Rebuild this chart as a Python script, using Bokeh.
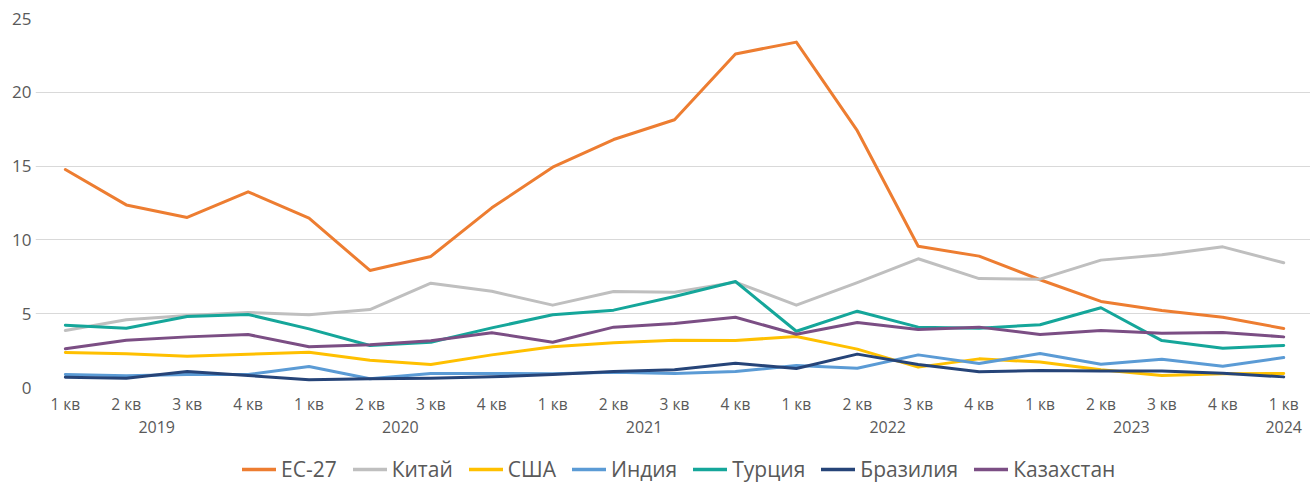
from bokeh.plotting import figure
from bokeh.models import (Range1d, FixedTicker, LinearAxis, Legend, LegendItem)
from bokeh.layouts import column
from bokeh.embed import file_html
from bokeh.resources import INLINE

quarters = ["1 кв", "2 кв", "3 кв", "4 кв"] * 5 + ["1 кв"]
years = ["2019"] * 4 + ["2020"] * 4 + ["2021"] * 4 + ["2022"] * 4 + ["2023"] * 4 + ["2024"]

eu27 = [14.77, 12.37, 11.52, 13.26, 11.47, 7.93, 8.88, 12.17, 14.93, 16.8, 18.14,
        22.6, 23.4, 17.4, 9.57, 8.9, 7.3, 5.83, 5.22, 4.76, 4.0]
china = [3.86, 4.59, 4.88, 5.08, 4.93, 5.28, 7.07, 6.52, 5.58, 6.5, 6.46, 7.14,
         5.58, 7.1, 8.72, 7.38, 7.34, 8.63, 8.99, 9.53, 8.45]
usa = [2.37, 2.28, 2.12, 2.26, 2.39, 1.85, 1.56, 2.21, 2.76, 3.03, 3.2, 3.18,
       3.46, 2.6, 1.38, 1.94, 1.72, 1.2, 0.81, 0.93, 0.95]
india = [0.88, 0.79, 0.88, 0.88, 1.42, 0.59, 0.95, 0.95, 0.93, 1.04, 0.95, 1.08,
         1.49, 1.31, 2.21, 1.63, 2.3, 1.58, 1.92, 1.44, 2.03]
turkey = [4.22, 4.02, 4.81, 4.95, 3.97, 2.85, 3.07, 4.04, 4.93, 5.24, 6.17, 7.18,
          3.81, 5.17, 4.09, 4.02, 4.25, 5.4, 3.18, 2.66, 2.85]
brazil = [0.7, 0.63, 1.08, 0.81, 0.52, 0.59, 0.63, 0.72, 0.88, 1.08, 1.2, 1.65,
          1.29, 2.26, 1.56, 1.06, 1.15, 1.12, 1.12, 0.97, 0.72]
kazakhstan = [2.62, 3.2, 3.43, 3.59, 2.76, 2.89, 3.16, 3.71, 3.07, 4.09, 4.34, 4.76,
              3.61, 4.4, 3.93, 4.09, 3.59, 3.86, 3.68, 3.73, 3.43]

series_names = ["ЕС-27", "Китай", "США", "Индия", "Турция", "Бразилия", "Казахстан"]
series_values = [eu27, china, usa, india, turkey, brazil, kazakhstan]
colors = ["#ED7D31", "#BFBFBF", "#FFC000", "#5B9BD5", "#15A69A", "#264478", "#7B4E84"]

FONT = "Open Sans"
TXT = "#595959"

x = list(range(len(quarters)))

p = figure(width=1310, height=447, output_backend="svg", toolbar_location=None,
           x_range=Range1d(-0.49, 20.44), y_range=Range1d(0, 25),
           min_border_left=35, min_border_right=0, min_border_top=18, min_border_bottom=60)
p.outline_line_color = None
p.background_fill_color = "white"
p.border_fill_color = "white"

p.xgrid.visible = False
p.ygrid.grid_line_color = "#D9D9D9"
p.ygrid.grid_line_width = 1
p.ygrid.ticker = FixedTicker(ticks=[0, 5, 10, 15, 20, 25])

ya = p.yaxis[0]
ya.ticker = FixedTicker(ticks=[0, 5, 10, 15, 20, 25])
ya.axis_line_color = None
ya.major_tick_line_color = None
ya.minor_tick_line_color = None
ya.major_tick_out = 0
ya.major_label_text_font = FONT
ya.major_label_text_font_size = "17px"
ya.major_label_text_color = TXT
ya.major_label_standoff = 4

xa = p.xaxis[0]
xa.ticker = FixedTicker(ticks=x)
xa.major_label_overrides = {i: q for i, q in zip(x, quarters)}
xa.axis_line_color = None
xa.major_tick_line_color = None
xa.minor_tick_line_color = None
xa.major_tick_out = 0
xa.major_label_text_font = FONT
xa.major_label_text_font_size = "15.5px"
xa.major_label_text_color = TXT
xa.major_label_standoff = 5

# year level
year_order = []
for yv in years:
    if yv not in year_order:
        year_order.append(yv)
year_pos = []
for yv in year_order:
    idx = [i for i, v in zip(x, years) if v == yv]
    year_pos.append(sum(idx) / len(idx))
xa2 = LinearAxis(ticker=FixedTicker(ticks=year_pos),
                 major_label_overrides={pos: yv for pos, yv in zip(year_pos, year_order)})
xa2.axis_line_color = None
xa2.major_tick_line_color = None
xa2.minor_tick_line_color = None
xa2.major_tick_out = 0
xa2.major_label_text_font = FONT
xa2.major_label_text_font_size = "16px"
xa2.major_label_text_color = TXT
xa2.major_label_standoff = 3
p.add_layout(xa2, "below")

for name, vals, c in zip(series_names, series_values, colors):
    p.line(x, vals, line_color=c, line_width=3, line_join="round", line_cap="round")

# legend strip (proxy lines kept outside the visible range)
pl = figure(width=1310, height=40, output_backend="svg", toolbar_location=None,
            x_range=Range1d(0, 1), y_range=Range1d(0, 1),
            min_border_left=0, min_border_right=0, min_border_top=0, min_border_bottom=0)
pl.axis.visible = False
pl.grid.visible = False
pl.outline_line_color = None
items = []
for name, c in zip(series_names, colors):
    r = pl.line([-2, -1], [-2, -2], line_color=c, line_width=3.5, line_cap="round")
    items.append(LegendItem(label=name, renderers=[r]))
legend = Legend(items=items, orientation="horizontal", location=(207, 4),
                label_text_font=FONT, label_text_font_size="21px", label_text_color=TXT,
                glyph_width=34, glyph_height=24, label_height=24, label_standoff=5, spacing=16,
                padding=0, margin=0, border_line_color=None, background_fill_alpha=0)
pl.add_layout(legend, "center")

layout = column(p, pl, spacing=0)
open("out.html", "w").write(file_html(layout, INLINE))
